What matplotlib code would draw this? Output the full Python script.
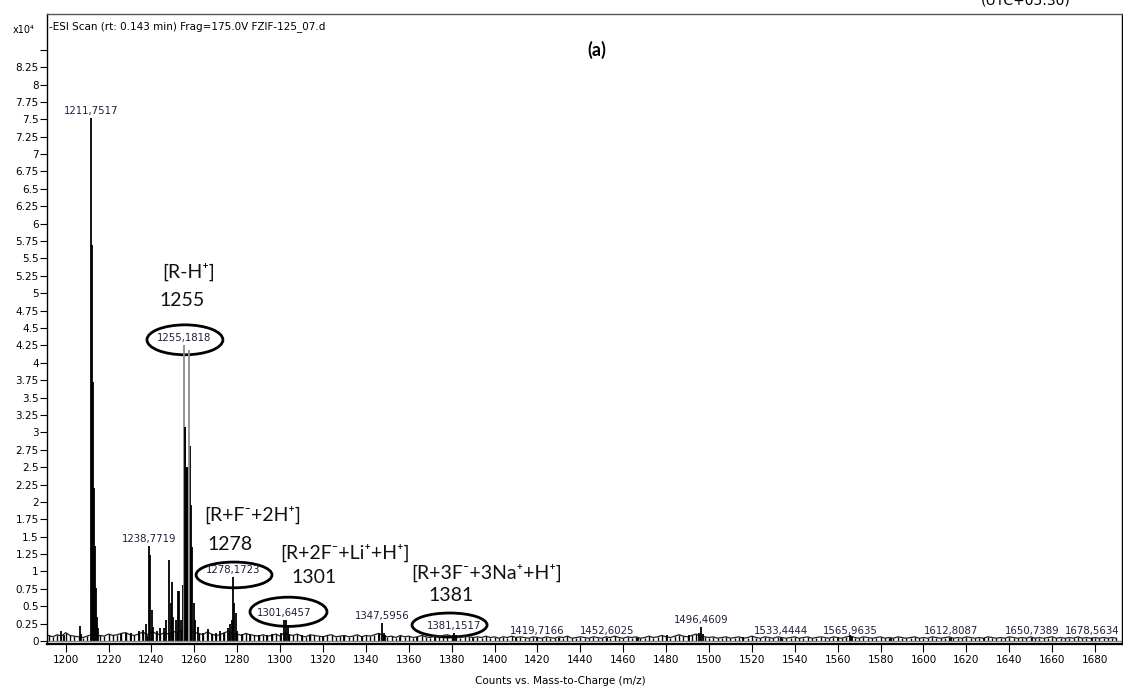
import numpy as np
import matplotlib
matplotlib.use("Agg")
import matplotlib.pyplot as plt
from matplotlib.patches import Ellipse

# peak list (m/z, counts x10^4)
peak_mz = [1198.0, 1199.2, 1206.7, 1207.2,
           1211.75, 1212.1, 1212.6, 1213.0, 1213.5, 1214.0, 1214.6, 1215.2,
           1226.0, 1228.0, 1230.5, 1234.0, 1236.0, 1237.5,
           1238.77, 1239.4, 1240.2, 1240.8, 1242.5, 1244.0, 1246.0, 1247.0,
           1248.3, 1248.9, 1249.5, 1250.0, 1251.6, 1252.3, 1252.9, 1253.8, 1254.6,
           1255.5, 1256.0, 1256.5, 1257.9, 1258.6, 1259.0, 1259.6, 1260.5, 1261.5,
           1264.0, 1266.5, 1268.0, 1270.0, 1272.0, 1274.0, 1275.5, 1276.5, 1277.5,
           1278.17, 1278.6, 1279.2, 1279.8, 1282.0, 1286.0, 1290.0, 1294.0, 1296.0,
           1300.5, 1301.65, 1302.6, 1303.5, 1304.3, 1310.0, 1314.0, 1320.0, 1330.0, 1338.0,
           1346.2, 1347.6, 1348.3, 1349.0, 1356.0, 1364.0, 1372.0,
           1380.4, 1381.15, 1382.0, 1390.0, 1410.0, 1419.7, 1430.0, 1452.6, 1467.0,
           1480.5, 1490.5, 1495.2, 1496.46, 1497.2, 1516.0, 1533.4, 1560.0,
           1565.96, 1566.5, 1585.0, 1612.8, 1628.0, 1650.7, 1678.6]
peak_int = [0.15, 0.08, 0.22, 0.10,
            7.52, 5.70, 3.72, 2.20, 1.37, 0.76, 0.35, 0.18,
            0.10, 0.12, 0.12, 0.14, 0.16, 0.25,
            1.36, 1.23, 0.45, 0.20, 0.15, 0.18, 0.18, 0.30,
            1.16, 0.55, 0.85, 0.35, 0.30, 0.72, 0.72, 0.30, 0.80,
            3.08, 1.95, 2.50, 2.80, 1.95, 1.35, 0.55, 0.30, 0.20,
            0.12, 0.17, 0.10, 0.12, 0.15, 0.12, 0.18, 0.25, 0.30,
            0.92, 0.54, 0.40, 0.15, 0.10, 0.10, 0.08, 0.09, 0.10,
            0.12, 0.30, 0.30, 0.20, 0.10, 0.08, 0.09, 0.07, 0.07, 0.07,
            0.10, 0.26, 0.12, 0.08, 0.06, 0.06, 0.06,
            0.08, 0.12, 0.09, 0.05, 0.05, 0.05, 0.04, 0.05, 0.05,
            0.08, 0.08, 0.12, 0.20, 0.10, 0.06, 0.05, 0.05,
            0.08, 0.06, 0.04, 0.05, 0.04, 0.04, 0.04]

# the two tall lines of the 1255 cluster (drawn light, as in the scan)
tall_mz = [1255.18, 1257.4]
tall_int = [4.25, 4.18]

# labelled peaks
label_mz = [1211.75, 1238.77, 1255.18, 1278.17, 1301.65, 1347.60, 1381.15,
            1419.72, 1452.60, 1496.46, 1533.44, 1565.96, 1612.81, 1650.74, 1678.56]
label_int = [7.52, 1.36, 4.25, 0.92, 0.30, 0.26, 0.12,
             0.05, 0.05, 0.20, 0.05, 0.05, 0.05, 0.05, 0.05]
label_txt = ["1211,7517", "1238,7719", "1255,1818", "1278,1723", "1301,6457",
             "1347,5956", "1381,1517", "1419,7166", "1452,6025", "1496,4609",
             "1533,4444", "1565,9635", "1612,8087", "1650,7389", "1678,5634"]

# baseline noise, every 2 m/z from 1192 (hundredths of 10^4 counts)
noise_hund = [8, 6, 9, 7, 12, 8, 7, 6, 5, 7, 9, 6, 8, 7, 10, 8, 9, 11, 12, 9, 8, 10, 13, 9, 14,
              11, 9, 12, 10, 14, 12, 15, 13, 16, 12, 11, 9, 13, 10, 8, 9, 12, 14, 9, 10, 8, 11, 9, 8, 7,
              9, 7, 8, 10, 7, 12, 9, 8, 10, 7, 6, 9, 8, 7, 6, 8, 9, 6, 7, 8, 6, 7, 9, 6, 8,
              7, 9, 11, 8, 6, 7, 5, 8, 6, 7, 5, 6, 8, 6, 5, 7, 6, 8, 9, 7, 6, 5, 7, 6, 5,
              6, 5, 7, 5, 6, 4, 6, 5, 7, 5, 6, 5, 4, 6, 5, 4, 6, 5, 4, 6, 5, 7, 4, 5, 6,
              5, 4, 6, 5, 4, 6, 5, 7, 5, 4, 6, 5, 6, 4, 5, 7, 5, 6, 8, 6, 5, 7, 9, 7, 6,
              8, 10, 7, 6, 5, 6, 4, 5, 6, 4, 5, 6, 4, 5, 7, 5, 4, 6, 5, 4, 6, 5, 4, 5, 6,
              4, 5, 6, 4, 5, 6, 5, 4, 6, 5, 4, 6, 7, 5, 4, 6, 5, 4, 5, 6, 4, 5, 4, 6, 5,
              4, 5, 6, 4, 5, 4, 6, 5, 4, 5, 6, 4, 5, 4, 6, 5, 4, 5, 4, 6, 5, 4, 5, 4, 6,
              5, 4, 5, 4, 6, 4, 5, 4, 5, 6, 4, 5, 4, 5, 4, 6, 4, 5, 4, 5, 4, 5, 4, 5, 4]
noise_mz = np.arange(1192, 1692, 2)

# assignments written on the chart
ann_txt = ["[R-H\u207a]", "1255", "[R+F\u207b+2H\u207a]", "1278",
           "[R+2F\u207b+Li\u207a+H\u207a]", "1301", "[R+3F\u207b+3Na\u207a+H\u207a]", "1381"]
ann_mz = [1244.9, 1243.5, 1264.5, 1265.9, 1299.9, 1305.5, 1361.3, 1369.4]
ann_y = [5.30, 4.89, 1.81, 1.39, 1.27, 0.91, 0.98, 0.66]

# circled peaks: centre m/z, centre y, width (m/z), height
circ_mz = [1255.6, 1278.5, 1303.9, 1379.0]
circ_y = [4.33, 0.95, 0.42, 0.23]
circ_w = [35.4, 35.4, 35.9, 35.0]
circ_h = [0.43, 0.37, 0.42, 0.345]

W, H = 1123, 691
fig = plt.figure(figsize=(W / 100, H / 100), dpi=100)
ax = fig.add_axes([47 / W, 1 - 644 / H, (1121.5 - 47) / W, (644 - 14) / H])

noise = np.array(noise_hund) / 100
ax.vlines(noise_mz, 0, noise, color="black", lw=1.0)
ax.plot(noise_mz, noise, color="#222222", lw=0.9)
ax.vlines(peak_mz, 0, peak_int, color="black", lw=1.3)
ax.vlines(tall_mz, 0, tall_int, color="#8c8c8c", lw=1.3)
ax.vlines(peak_mz[35:38], 0, peak_int[35:38], color="black", lw=1.3)
ax.axhline(0, color="#888888", lw=1.0)

for m, h, t in zip(label_mz, label_int, label_txt):
    ax.text(m, h + 0.1, t, ha="center", va="center", fontsize=7.3, color="#1e1e3c")

for t, m, y in zip(ann_txt, ann_mz, ann_y):
    ax.text(m, y, t, ha="left", va="center", fontsize=14,
            family=["Lato", "DejaVu Sans"], color="#111111")

for m, y, w, h in zip(circ_mz, circ_y, circ_w, circ_h):
    ax.add_patch(Ellipse((m, y), w, h, fill=False, edgecolor="black", lw=2))

ax.set_xlim(1191.28, 1692.35)
ax.set_ylim(-0.043, 9.014)
ax.set_xticks(np.arange(1200, 1681, 20))
ax.tick_params(axis="x", labelsize=7.5, length=6, pad=2, direction="out")
yt = np.arange(0, 8.51, 0.25)
ax.set_yticks(yt)
ax.set_yticklabels(["%g" % v if v < 8.4 else "" for v in yt])
ax.tick_params(axis="y", labelsize=7.5, length=5, pad=1, direction="out")
for s in ["top", "right", "left"]:
    ax.spines[s].set_linewidth(1.0)
ax.spines["top"].set_color("#555555")
ax.spines["bottom"].set_linewidth(1.6)

def ftext(x, y, s, **kw):
    fig.text(x / W, 1 - y / H, s, **kw)

ftext(49, 27, "-ESI Scan (rt: 0.143 min) Frag=175.0V FZIF-125_07.d", fontsize=7.5, va="center")
ftext(13, 30, "x10\u2074", fontsize=7, va="center")
ftext(597, 50, "(a)", fontsize=13, fontweight="bold", ha="center", va="center",
      family=["Lato", "DejaVu Sans"])
ftext(1026, 5, "(UTC+05:30)", fontsize=10, ha="center", va="baseline")
ftext(560, 681, "Counts vs. Mass-to-Charge (m/z)", fontsize=7.5, ha="center", va="center")

fig.savefig("out.png", dpi=100)
